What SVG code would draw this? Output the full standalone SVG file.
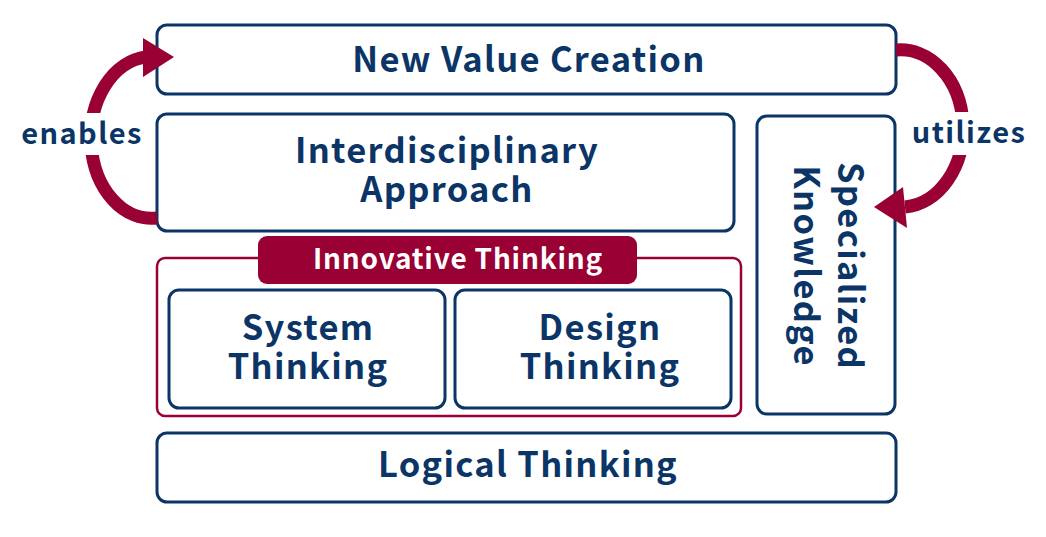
<svg xmlns="http://www.w3.org/2000/svg" width="1046" height="537" viewBox="0 0 1046 537">
<style>
.box{fill:#fff;stroke:#0b3566;stroke-width:3}
.t{font-family:"Noto Sans CJK JP","Noto Sans",sans-serif;font-weight:700;fill:#0b3566;text-anchor:middle}
.big{font-size:34.5px;letter-spacing:1.3px}
.lbl{font-size:29px;letter-spacing:1.4px}
.arc{fill:none;stroke:#990033;stroke-width:13}
.head{fill:#990033}
.gap{fill:#fff}
</style>
<rect width="1046" height="537" fill="#fff"/>
<g id="new-value-creation">
<rect class="box" x="157" y="25" width="739" height="69" rx="10"/>
<text class="t big" x="529" y="72">New Value Creation</text>
</g>
<g id="interdisciplinary-approach">
<rect class="box" x="157" y="114" width="577" height="117" rx="10"/>
<text class="t big" x="447" y="163">Interdisciplinary</text>
<text class="t big" x="447" y="202">Approach</text>
</g>
<g id="specialized-knowledge">
<rect class="box" x="757" y="116" width="138" height="298" rx="10"/>
<g transform="translate(826,265) rotate(90)">
<text class="t big" x="1" y="-12">Specialized</text>
<text class="t big" x="1" y="32">Knowledge</text>
</g>
</g>
<g id="innovative-thinking">
<rect x="157" y="258" width="584" height="158" rx="8" fill="#fff" stroke="#990033" stroke-width="2.5"/>
<rect x="258" y="236" width="379" height="48" rx="9" fill="#990033"/>
<text class="t" x="458" y="269" style="font-size:28px;letter-spacing:0.8px;fill:#fff">Innovative Thinking</text>
</g>
<g id="system-thinking">
<rect class="box" x="169" y="290" width="276" height="118" rx="10"/>
<text class="t big" x="308" y="340">System</text>
<text class="t big" x="308" y="379">Thinking</text>
</g>
<g id="design-thinking">
<rect class="box" x="455" y="290" width="276" height="118" rx="10"/>
<text class="t big" x="600" y="340">Design</text>
<text class="t big" x="600" y="379">Thinking</text>
</g>
<g id="logical-thinking">
<rect class="box" x="157" y="433" width="739" height="69" rx="10"/>
<text class="t big" x="528" y="477">Logical Thinking</text>
</g>
<g id="connectors">
<path class="arc" d="M157,218 A60 80 0 0 1 146,57"/>
<polygon class="head" points="143,38 174,57 143,77"/>
<rect class="gap" x="70" y="113" width="50" height="42"/>
<text class="t lbl" x="82" y="144">enables</text>
<path class="arc" d="M896,50 A62 78 0 0 1 905,207"/>
<polygon class="head" points="903,187 874,207 907,228"/>
<rect class="gap" x="940" y="112" width="40" height="43"/>
<text class="t lbl" x="969" y="143">utilizes</text>
</g>
</svg>
